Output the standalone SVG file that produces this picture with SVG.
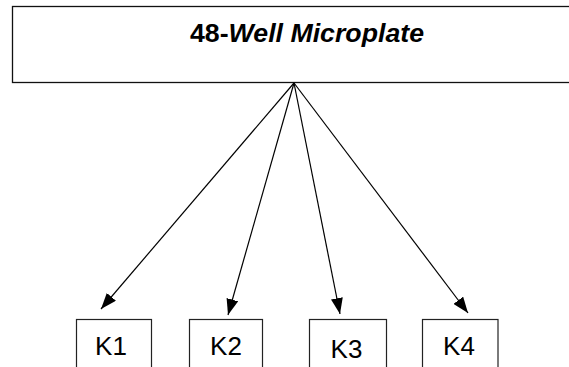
<svg xmlns="http://www.w3.org/2000/svg" width="569" height="367" viewBox="0 0 569 367">
<style>
.box{fill:#fff;stroke:#111;stroke-width:1.3}
.kbox{fill:#fff;stroke:#222;stroke-width:1.2}
.lbl{font-family:"Liberation Sans",Arial,sans-serif;font-size:26px;fill:#000}
.conn line{stroke:#000;stroke-width:1.2;marker-end:url(#ah)}
</style>
<defs>
<marker id="ah" viewBox="0 0 16 12" refX="16" refY="6" markerWidth="16" markerHeight="12" markerUnits="userSpaceOnUse" orient="auto">
<path d="M0,0 L16,6 L0,12 Z" fill="#000"/>
</marker>
</defs>
<g id="plate">
<rect class="box" x="12.5" y="6.5" width="570" height="76"/>
<text x="190" y="42" font-family="Liberation Sans, Arial, sans-serif" font-size="25.5" font-weight="bold" textLength="234" lengthAdjust="spacingAndGlyphs">48-<tspan font-style="italic">Well Microplate</tspan></text>
</g>
<g class="conn" id="connectors">
<line x1="294" y1="83" x2="101" y2="309"/>
<line x1="294" y1="83" x2="228" y2="315"/>
<line x1="294" y1="83" x2="340" y2="314"/>
<line x1="294" y1="83" x2="468" y2="313"/>
</g>
<g id="K1">
<rect class="kbox" x="76.5" y="319.5" width="75" height="60"/>
<text class="lbl" x="111" y="354.5" text-anchor="middle">K1</text>
</g>
<g id="K2">
<rect class="kbox" x="189.5" y="319.5" width="73" height="60"/>
<text class="lbl" x="226" y="354.5" text-anchor="middle">K2</text>
</g>
<g id="K3">
<rect class="kbox" x="309.5" y="319.5" width="77" height="60"/>
<text class="lbl" x="346.5" y="358" text-anchor="middle">K3</text>
</g>
<g id="K4">
<rect class="kbox" x="422.5" y="319.5" width="75.5" height="60"/>
<text class="lbl" x="459" y="354.5" text-anchor="middle">K4</text>
</g>
</svg>
